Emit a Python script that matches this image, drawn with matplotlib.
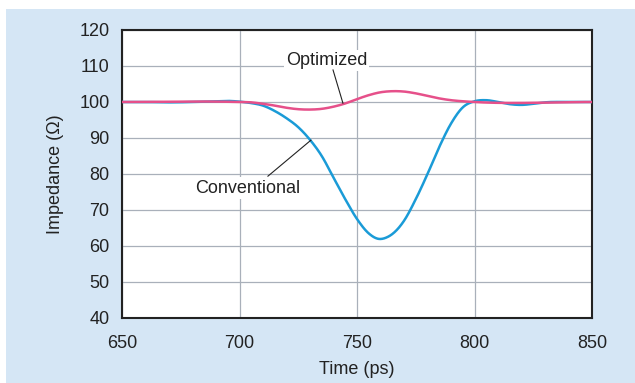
import numpy as np
import matplotlib
matplotlib.use('Agg')
import matplotlib.pyplot as plt
from matplotlib.patches import Rectangle

# Dados
t_conv = [650, 660, 670, 680, 690, 695, 700, 705, 710, 715, 720, 725, 730, 735, 740,
          745, 750, 755, 759, 763, 767, 770, 775, 780, 785, 790, 795, 800, 805, 810,
          815, 820, 825, 830, 840, 850]
z_conv = [100, 100, 99.9, 100, 100.2, 100.3, 100.1, 99.7, 99, 97.5, 95.5, 93, 89.5, 85, 79,
          73, 67.5, 63.5, 62, 62.5, 64.5, 67, 73, 80, 87.5, 94, 98.5, 100.2, 100.5, 100,
          99.4, 99.2, 99.5, 99.9, 100, 100]

t_opt = [650, 700, 705, 710, 715, 720, 725, 730, 735, 740, 745, 750, 755, 760, 765,
         770, 775, 780, 785, 790, 795, 800, 850]
z_opt = [100, 100, 99.9, 99.5, 99, 98.4, 98, 97.9, 98.1, 98.7, 99.6, 100.8, 101.9, 102.7, 103,
         102.9, 102.4, 101.7, 101, 100.5, 100.2, 100, 100]

x_ticks = [650, 700, 750, 800, 850]
y_ticks = [40, 50, 60, 70, 80, 90, 100, 110, 120]


def hermite(x, y, n=1000):
    """Curva suave (Hermite cúbica) passando pelos pontos lidos"""
    x = np.asarray(x, float)
    y = np.asarray(y, float)
    m = np.gradient(y, x)
    xs = np.linspace(x[0], x[-1], n)
    i = np.clip(np.searchsorted(x, xs) - 1, 0, len(x) - 2)
    h = x[i + 1] - x[i]
    s = (xs - x[i]) / h
    h00 = 2 * s**3 - 3 * s**2 + 1
    h10 = s**3 - 2 * s**2 + s
    h01 = -2 * s**3 + 3 * s**2
    h11 = s**3 - s**2
    ys = h00 * y[i] + h10 * h * m[i] + h01 * y[i + 1] + h11 * h * m[i + 1]
    return xs, ys


plt.rcParams['font.family'] = ['Liberation Sans', 'DejaVu Sans']

W, H = 635, 383
bg = '#d5e6f5'
fs = 13
fig = plt.figure(figsize=(W / 100, H / 100), dpi=100, facecolor='white')
fig.patches.append(Rectangle((6 / W, 0), 1, 1 - 9 / H, transform=fig.transFigure,
                             facecolor=bg, edgecolor='none', zorder=-10))
ax = fig.add_axes([122 / W, 1 - 318 / H, 470 / W, 288 / H])

ax.plot(*hermite(t_conv, z_conv), color='#1a9bd7', lw=1.8, zorder=3)
ax.plot(*hermite(t_opt, z_opt), color='#e6508a', lw=1.8, zorder=4)

ax.set_xlim(650, 850)
ax.set_ylim(40, 120)
ax.set_xticks(x_ticks)
ax.set_yticks(y_ticks)
ax.grid(True, color='#a9b0ba', lw=0.9)
ax.set_axisbelow(True)
ax.tick_params(length=0, labelsize=fs, colors='#222222')
ax.tick_params(axis='x', pad=12)
ax.tick_params(axis='y', pad=9)
for s in ax.spines.values():
    s.set_linewidth(1.5)
    s.set_color('#222222')

ax.set_xlabel('Time (ps)', fontsize=fs, color='#222222', labelpad=7)
ax.set_ylabel('Impedance (Ω)', fontsize=fs, color='#222222', labelpad=11)

box = dict(facecolor='white', edgecolor='none', pad=1.5)
ax.text(737, 111.6, 'Optimized', fontsize=fs, ha='center', va='center',
        color='#222222', bbox=box, zorder=5)
ax.plot([739.8, 744], [108.9, 99.7], color='#222222', lw=0.8, zorder=5)
ax.text(703.6, 76.1, 'Conventional', fontsize=fs, ha='center', va='center',
        color='#222222', bbox=box, zorder=5)
ax.plot([712.1, 730.4], [79.4, 89.4], color='#222222', lw=0.8, zorder=5)

plt.savefig('out.png', dpi=100, facecolor='white')
